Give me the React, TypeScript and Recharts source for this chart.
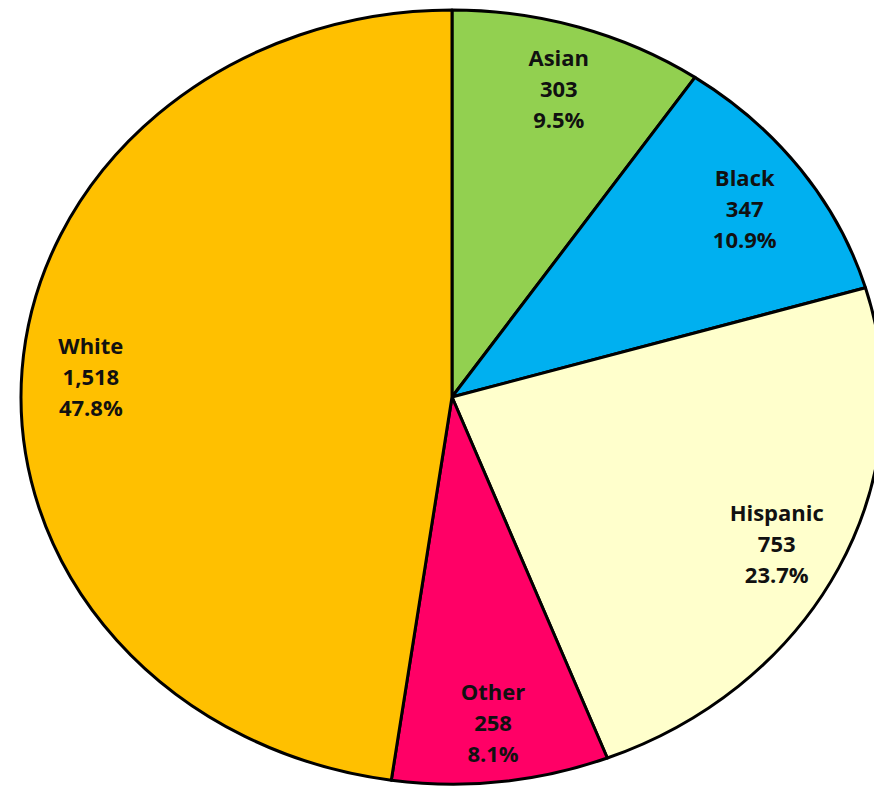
import { PieChart, Pie, Cell } from 'recharts'

const groups = ['Asian', 'Black', 'Hispanic', 'Other', 'White']
const counts = [303, 347, 753, 258, 1518]
const colors = ['#92D050', '#00B0F0', '#FFFFCC', '#FF0066', '#FFC000']

const data = groups.map((name, i) => ({ name, value: counts[i] }))
const total = counts.reduce((a, b) => a + b, 0)

// the original is an ellipse, wider than tall
const RY = 387
const RX = 431
const K = RX / RY
const RAD = Math.PI / 180

function EllipseSector(props: any) {
  const { cx, cy, outerRadius, startAngle, endAngle, fill } = props
  const p = (a: number) => [cx + K * outerRadius * Math.cos(-a * RAD), cy + outerRadius * Math.sin(-a * RAD)]
  const [x1, y1] = p(startAngle)
  const [x2, y2] = p(endAngle)
  const large = Math.abs(endAngle - startAngle) > 180 ? 1 : 0
  const sweep = startAngle > endAngle ? 1 : 0
  const d = `M${cx},${cy} L${x1},${y1} A${K * outerRadius},${outerRadius} 0 ${large} ${sweep} ${x2},${y2} Z`
  return <path d={d} fill={fill} stroke="#000" strokeWidth={3} strokeLinejoin="round" />
}

function renderLabel(props: any) {
  const { cx, cy, midAngle, outerRadius, name, value } = props
  const r = outerRadius * 0.84
  const x = cx + K * r * Math.cos(-midAngle * RAD)
  const y = cy + r * Math.sin(-midAngle * RAD)
  const pct = ((value / total) * 100).toFixed(1) + '%'
  return (
    <text x={x} y={y} textAnchor="middle" fill="#111" fontFamily="'Open Sans', sans-serif" fontWeight={700} fontSize={22}>
      <tspan x={x} dy={-20}>{name}</tspan>
      <tspan x={x} dy={31}>{value.toLocaleString('en-US')}</tspan>
      <tspan x={x} dy={31}>{pct}</tspan>
    </text>
  )
}

export default function App() {
  return (
    <div style={{ position: 'absolute', left: 0, top: 0, width: 874, height: 788, background: '#fff' }}>
      <PieChart width={874} height={788} margin={{ top: 0, right: 0, bottom: 0, left: 0 }}>
        <Pie
          data={data}
          dataKey="value"
          nameKey="name"
          cx={452}
          cy={397}
          outerRadius={RY}
          startAngle={90}
          endAngle={-270}
          shape={EllipseSector}
          label={renderLabel}
          labelLine={false}
          isAnimationActive={false}
        >
          {data.map((d, i) => (
            <Cell key={d.name} fill={colors[i]} />
          ))}
        </Pie>
      </PieChart>
    </div>
  )
}
